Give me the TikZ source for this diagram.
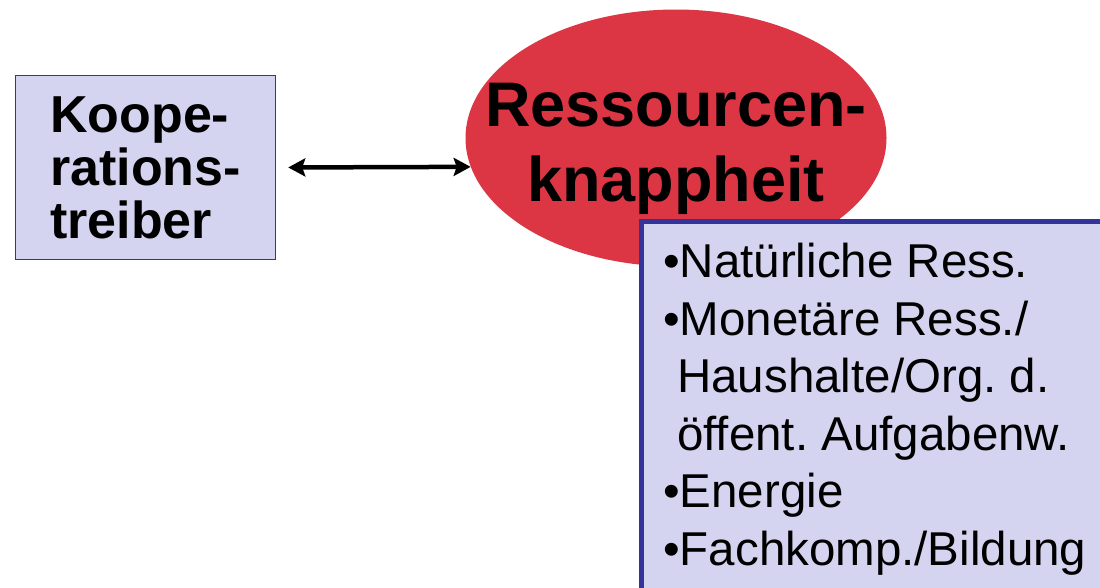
\documentclass[tikz,border=0pt]{standalone}
\usepackage{fontspec}
\setmainfont{Liberation Sans}
\usepackage{tikz}
\usetikzlibrary{arrows.meta,shapes.geometric}
\definecolor{ovalred}{RGB}{220,54,68}
\definecolor{boxfill}{RGB}{212,212,240}
\definecolor{boxline}{RGB}{51,51,153}
\frenchspacing

\begin{document}
\begin{tikzpicture}[x=1pt,y=-1pt,
    smallbox/.style={draw=boxline,line width=1.5pt,fill=boxfill,minimum width=260pt,minimum height=184pt,inner sep=0pt},
    bigbox/.style={draw=boxline,line width=5pt,fill=boxfill,anchor=north west,minimum width=490pt,minimum height=400pt,inner sep=0pt},
    redoval/.style={ellipse,fill=ovalred,minimum width=421pt,minimum height=257pt,inner sep=0pt}]
    \clip (0,0) rectangle (1100,587);
    % Boxes
    \node[smallbox,align=left,font=\fontsize{52}{53}\selectfont\bfseries] (kt) at (145.5,167.5) {Koope-\\rations-\\treiber};
    \node[redoval] (rk) at (676,138) {};
    \node[align=center,font=\fontsize{63}{75}\selectfont\bfseries] (rkt) at ([yshift=-11pt]rk.center) {Ressourcen-\\knappheit};
    % Arrow
    \draw[{Stealth[length=17pt,width=18pt,inset=3pt]}-{Stealth[length=17pt,width=18pt,inset=3pt]},line width=4.5pt,shorten <=12pt] (kt.east) -- (rk.188);
    % List
    \node[bigbox] (rb) at (639,218.5) {};
    \node[align=left,anchor=north west,inner sep=0pt,font=\fontsize{47.5}{57.5}\selectfont] (rl) at (663,243)
      {•Natürliche Ress.\\•Monetäre Ress./\\\hspace{14pt}Haushalte/Org. d.\\\hspace{14pt}öffent. Aufgabenw.\\•Energie\\•Fachkomp./Bildung};
\end{tikzpicture}
\end{document}
